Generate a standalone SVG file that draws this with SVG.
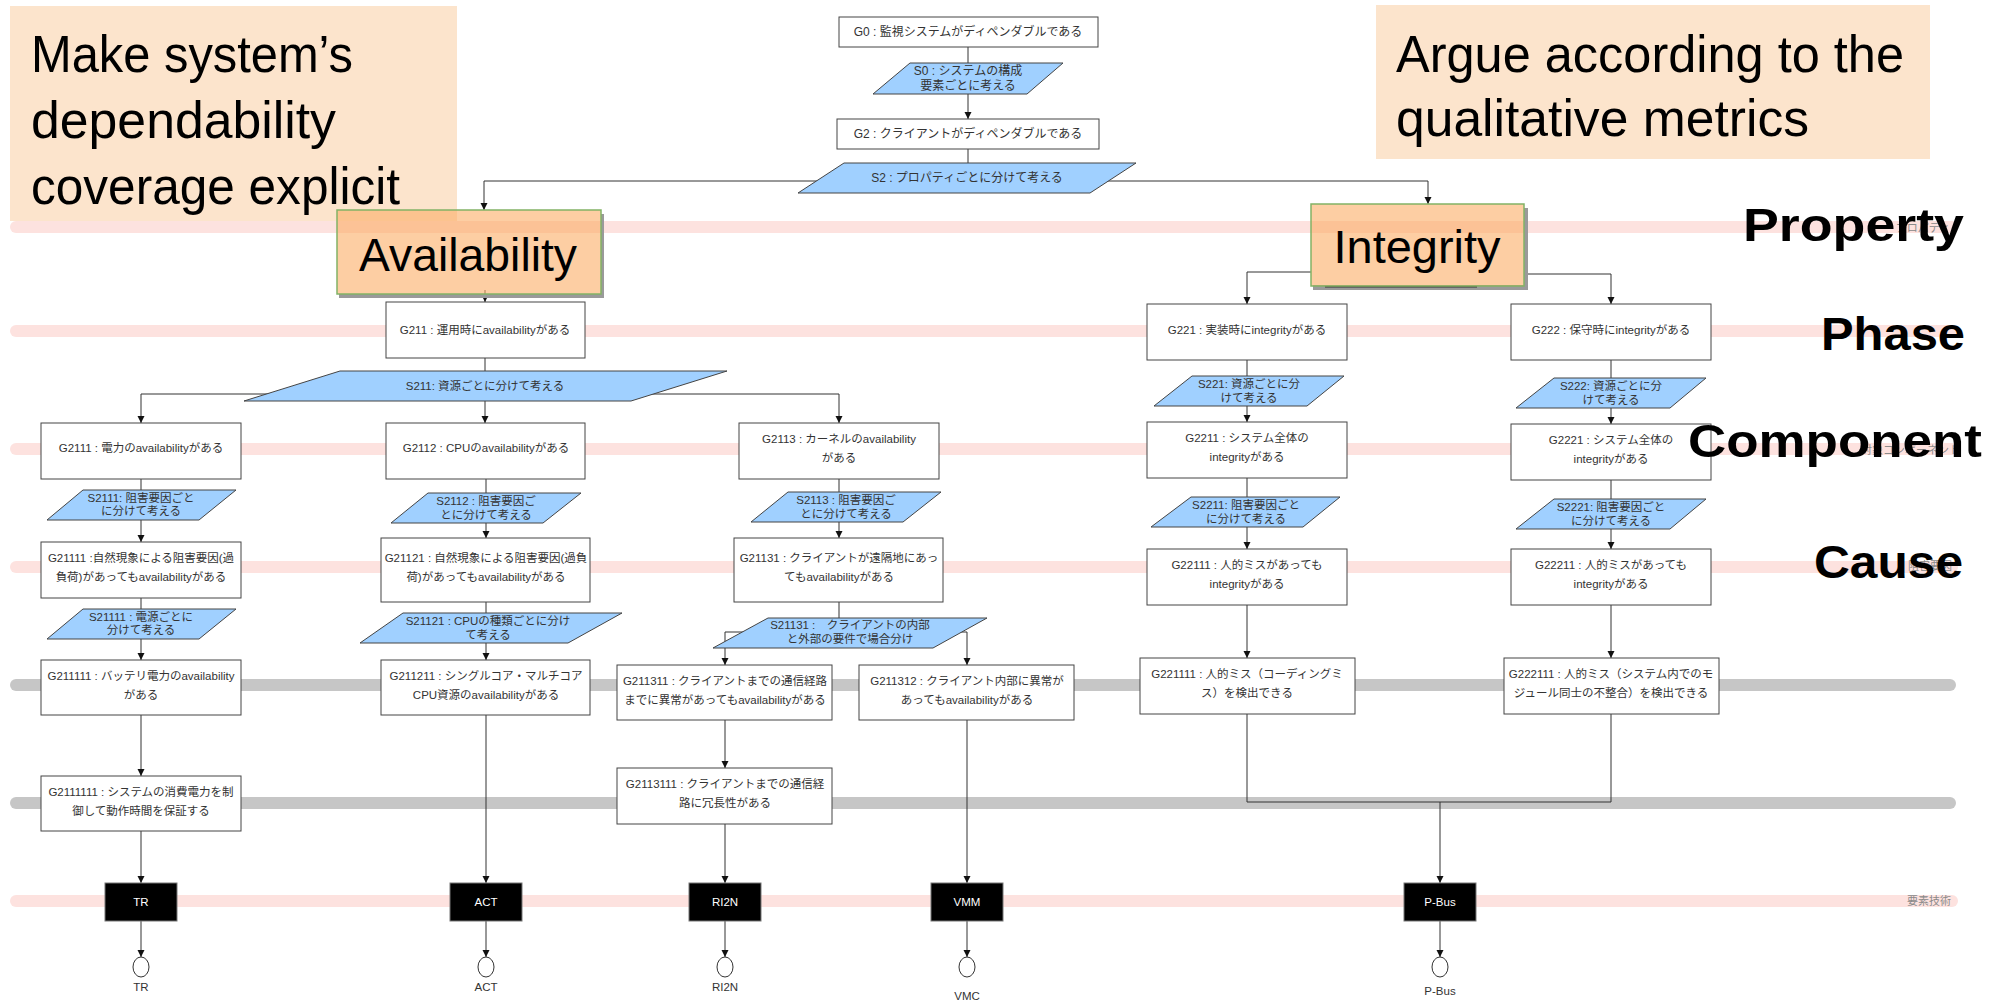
<svg xmlns="http://www.w3.org/2000/svg" width="2006" height="1001" viewBox="0 0 2006 1001">
<style>
.band{fill:none;stroke-width:12;stroke-linecap:round}
.pink{stroke:#fde2df}
.gray{stroke:#c6c6c6}
.note{fill:#fce4cc}
.note text{font-family:"Liberation Sans","Noto Sans",sans-serif;font-size:52px;fill:#000}
.g rect{fill:#fff;stroke:#444;stroke-width:1}
.s polygon{fill:#a0d0ff;stroke:#444;stroke-width:1}
.t{font-family:"Liberation Sans","Noto Sans CJK JP",sans-serif;font-size:11.5px;fill:#333;text-anchor:middle}
.big{font-family:"Liberation Sans","Noto Sans CJK JP",sans-serif;font-size:12px;fill:#333;text-anchor:middle}
.tech rect{fill:#000;stroke:#777;stroke-width:1}
.tech text{font-family:"Liberation Sans",sans-serif;font-size:11.5px;fill:#fff;text-anchor:middle}
.end ellipse{fill:#fff;stroke:#333;stroke-width:1}
.end text{font-family:"Liberation Sans",sans-serif;font-size:11.5px;fill:#333;text-anchor:middle}
.conn path{fill:none;stroke:#333;stroke-width:1}
.prop rect.box{fill:#fcae66;fill-opacity:0.6;stroke:#82b366;stroke-width:1.5}
.prop rect.sh{fill:#9a9a9a}
.prop text{font-family:"Liberation Sans",sans-serif;font-size:47px;fill:#000;text-anchor:middle}
.lvl{font-family:"Liberation Sans",sans-serif;font-weight:bold;font-size:46px;fill:#000;text-anchor:end}
.faint{font-family:"Liberation Sans","Noto Sans CJK JP",sans-serif;font-size:11px;fill:#8a8a8a;text-anchor:end}
</style>
<defs>
<marker id="arr" viewBox="0 0 10 10" refX="10" refY="5" markerWidth="7" markerHeight="9" markerUnits="userSpaceOnUse" orient="auto">
<path d="M0,0 L10,5 L0,10 z" fill="#111"/>
</marker>
</defs>
<rect width="2006" height="1001" fill="#fff"/>

<g id="bands">
<path class="band pink" d="M16,227 H1952"/>
<path class="band pink" d="M16,331 H1952"/>
<path class="band pink" d="M16,449 H1952"/>
<path class="band pink" d="M16,567 H1952"/>
<path class="band gray" d="M16,685 H1950"/>
<path class="band gray" d="M16,803 H1950"/>
<path class="band pink" d="M16,901 H1952"/>
</g>

<g id="faint-labels">
<text class="faint" x="1950" y="232">プロパティ</text>
<text class="faint" x="1960" y="454">対象コンポーネント</text>
<text class="faint" x="1952" y="570">阻害要因</text>
<text class="faint" x="1951" y="905">要素技術</text>
</g>

<g id="note-left" class="note">
<rect x="10" y="6" width="447" height="215"/>
<text x="31" y="72" textLength="322" lengthAdjust="spacingAndGlyphs">Make system’s</text>
<text x="31" y="138" textLength="305" lengthAdjust="spacingAndGlyphs">dependability</text>
<text x="31" y="204" textLength="369" lengthAdjust="spacingAndGlyphs">coverage explicit</text>
</g>
<g id="note-right" class="note">
<rect x="1376" y="5" width="554" height="154"/>
<text x="1396" y="72" textLength="508" lengthAdjust="spacingAndGlyphs">Argue according to the</text>
<text x="1396" y="136" textLength="413" lengthAdjust="spacingAndGlyphs">qualitative metrics</text>
</g>

<g id="connectors" class="conn">
<path d="M968,47 V119" marker-end="url(#arr)"/>
<path d="M968,149 V181"/>
<path d="M968,181 H484 V210" marker-end="url(#arr)"/>
<path d="M968,181 H1428 V204" marker-end="url(#arr)"/>
<path d="M485,290 V302" marker-end="url(#arr)"/>
<path d="M485,358 V394"/>
<path d="M485,394 H141 V423" marker-end="url(#arr)"/>
<path d="M485,394 V423" marker-end="url(#arr)"/>
<path d="M485,394 H839 V423" marker-end="url(#arr)"/>
<path d="M141,479 V542" marker-end="url(#arr)"/>
<path d="M141,598 V660" marker-end="url(#arr)"/>
<path d="M141,715 V776" marker-end="url(#arr)"/>
<path d="M141,831 V883" marker-end="url(#arr)"/>
<path d="M141,921 V957" marker-end="url(#arr)"/>
<path d="M486,479 V538" marker-end="url(#arr)"/>
<path d="M486,602 V660" marker-end="url(#arr)"/>
<path d="M486,715 V883" marker-end="url(#arr)"/>
<path d="M486,921 V957" marker-end="url(#arr)"/>
<path d="M839,479 V538" marker-end="url(#arr)"/>
<path d="M839,602 V632"/>
<path d="M839,632 H725 V665" marker-end="url(#arr)"/>
<path d="M839,632 H967 V665" marker-end="url(#arr)"/>
<path d="M725,720 V768" marker-end="url(#arr)"/>
<path d="M725,824 V883" marker-end="url(#arr)"/>
<path d="M725,921 V957" marker-end="url(#arr)"/>
<path d="M967,720 V883" marker-end="url(#arr)"/>
<path d="M967,921 V957" marker-end="url(#arr)"/>
<path d="M1311,272 H1247 V304" marker-end="url(#arr)"/>
<path d="M1524,274 H1611 V304" marker-end="url(#arr)"/>
<path d="M1247,360 V422" marker-end="url(#arr)"/>
<path d="M1247,478 V549" marker-end="url(#arr)"/>
<path d="M1247,605 V658" marker-end="url(#arr)"/>
<path d="M1247,714 V802 H1611 V714"/>
<path d="M1440,802 V883" marker-end="url(#arr)"/>
<path d="M1440,921 V957" marker-end="url(#arr)"/>
<path d="M1611,360 V424" marker-end="url(#arr)"/>
<path d="M1611,480 V549" marker-end="url(#arr)"/>
<path d="M1611,605 V658" marker-end="url(#arr)"/>
</g>

<g id="G0" class="g"><rect x="839" y="17" width="259" height="30"/><text class="big" x="968" y="36">G0 : 監視システムがディペンダブルである</text></g>
<g id="S0" class="s"><polygon points="910,63 1063,63 1027,94 873,94"/><text class="big" x="968" y="75">S0 : システムの構成</text><text class="big" x="968" y="90">要素ごとに考える</text></g>
<g id="G2" class="g"><rect x="837" y="119" width="262" height="30"/><text class="big" x="968" y="138">G2 : クライアントがディペンダブルである</text></g>
<g id="S2" class="s"><polygon points="844,163 1136,163 1090,193 798,193"/><text class="big" x="967" y="182">S2 : プロパティごとに分けて考える</text></g>

<g id="Availability" class="prop">
<rect class="sh" x="339" y="294" width="265" height="4"/>
<rect class="sh" x="601" y="214" width="3" height="80"/>
<rect class="box" x="337" y="210" width="264" height="84"/>
<text x="468" y="271" textLength="218" lengthAdjust="spacingAndGlyphs">Availability</text>
</g>
<g id="Integrity" class="prop">
<rect class="sh" x="1313" y="285" width="215" height="5"/>
<rect class="sh" x="1524" y="208" width="4" height="78"/>
<rect x="1325" y="286" width="152" height="1.5" fill="#333"/>
<rect class="box" x="1311" y="204" width="213" height="82"/>
<text x="1417" y="263" textLength="167" lengthAdjust="spacingAndGlyphs">Integrity</text>
</g>

<g id="G211" class="g"><rect x="386" y="302" width="199" height="56"/><text class="t" x="485" y="334">G211 : 運用時にavailabilityがある</text></g>
<g id="S211" class="s"><polygon points="340,371 727,371 631,401 244,401"/><text class="t" x="485" y="390">S211: 資源ごとに分けて考える</text></g>

<g id="G2111" class="g"><rect x="41" y="423" width="200" height="56"/><text class="t" x="141" y="452">G2111 : 電力のavailabilityがある</text></g>
<g id="S2111" class="s"><polygon points="83,490 236,490 199,520 47,520"/><text class="t" x="141" y="502">S2111: 阻害要因ごと</text><text class="t" x="141" y="515">に分けて考える</text></g>
<g id="G21111" class="g"><rect x="41" y="542" width="200" height="56"/><text class="t" x="141" y="562">G21111 :自然現象による阻害要因(過</text><text class="t" x="141" y="581">負荷)があってもavailabilityがある</text></g>
<g id="S21111" class="s"><polygon points="83,609 236,609 199,639 47,639"/><text class="t" x="141" y="621">S21111 : 電源ごとに</text><text class="t" x="141" y="634">分けて考える</text></g>
<g id="G211111" class="g"><rect x="41" y="660" width="200" height="55"/><text class="t" x="141" y="680">G211111 : バッテリ電力のavailability</text><text class="t" x="141" y="699">がある</text></g>
<g id="G2111111" class="g"><rect x="41" y="776" width="200" height="55"/><text class="t" x="141" y="796">G2111111 : システムの消費電力を制</text><text class="t" x="141" y="815">御して動作時間を保証する</text></g>

<g id="G2112" class="g"><rect x="386" y="423" width="199" height="56"/><text class="t" x="486" y="452">G2112 : CPUのavailabilityがある</text></g>
<g id="S2112" class="s"><polygon points="428,493 581,493 543,523 391,523"/><text class="t" x="486" y="505">S2112 : 阻害要因ご</text><text class="t" x="486" y="519">とに分けて考える</text></g>
<g id="G21121" class="g"><rect x="381" y="538" width="209" height="64"/><text class="t" x="486" y="562">G21121 : 自然現象による阻害要因(過負</text><text class="t" x="486" y="581">荷)があってもavailabilityがある</text></g>
<g id="S21121" class="s"><polygon points="403,613 622,613 568,643 360,643"/><text class="t" x="488" y="625">S21121 : CPUの種類ごとに分け</text><text class="t" x="488" y="639">て考える</text></g>
<g id="G211211" class="g"><rect x="381" y="660" width="209" height="55"/><text class="t" x="486" y="680">G211211 : シングルコア・マルチコア</text><text class="t" x="486" y="699">CPU資源のavailabilityがある</text></g>

<g id="G2113" class="g"><rect x="739" y="423" width="200" height="56"/><text class="t" x="839" y="443">G2113 : カーネルのavailability</text><text class="t" x="839" y="462">がある</text></g>
<g id="S2113" class="s"><polygon points="788,492 941,492 903,522 751,522"/><text class="t" x="846" y="504">S2113 : 阻害要因ご</text><text class="t" x="846" y="518">とに分けて考える</text></g>
<g id="G21131" class="g"><rect x="734" y="538" width="209" height="64"/><text class="t" x="839" y="562">G21131 : クライアントが遠隔地にあっ</text><text class="t" x="839" y="581">てもavailabilityがある</text></g>
<g id="S21131" class="s"><polygon points="768,618 987,618 933,648 713,648"/><text class="t" x="850" y="629">S21131 :　クライアントの内部</text><text class="t" x="850" y="643">と外部の要件で場合分け</text></g>
<g id="G211311" class="g"><rect x="617" y="665" width="215" height="55"/><text class="t" x="725" y="685">G211311 : クライアントまでの通信経路</text><text class="t" x="725" y="704">までに異常があってもavailabilityがある</text></g>
<g id="G211312" class="g"><rect x="859" y="665" width="215" height="55"/><text class="t" x="967" y="685">G211312 : クライアント内部に異常が</text><text class="t" x="967" y="704">あってもavailabilityがある</text></g>
<g id="G2113111" class="g"><rect x="617" y="768" width="215" height="56"/><text class="t" x="725" y="788">G2113111 : クライアントまでの通信経</text><text class="t" x="725" y="807">路に冗長性がある</text></g>

<g id="G221" class="g"><rect x="1147" y="304" width="200" height="56"/><text class="t" x="1247" y="334">G221 : 実装時にintegrityがある</text></g>
<g id="S221" class="s"><polygon points="1192,376 1344,376 1307,406 1154,406"/><text class="t" x="1249" y="388">S221: 資源ごとに分</text><text class="t" x="1249" y="402">けて考える</text></g>
<g id="G2211" class="g"><rect x="1147" y="422" width="200" height="56"/><text class="t" x="1247" y="442">G2211 : システム全体の</text><text class="t" x="1247" y="461">integrityがある</text></g>
<g id="S2211" class="s"><polygon points="1191,497 1340,497 1303,527 1151,527"/><text class="t" x="1246" y="509">S2211: 阻害要因ごと</text><text class="t" x="1246" y="523">に分けて考える</text></g>
<g id="G22111" class="g"><rect x="1147" y="549" width="200" height="56"/><text class="t" x="1247" y="569">G22111 : 人的ミスがあっても</text><text class="t" x="1247" y="588">integrityがある</text></g>
<g id="G221111" class="g"><rect x="1140" y="658" width="215" height="56"/><text class="t" x="1247" y="678">G221111 : 人的ミス（コーディングミ</text><text class="t" x="1247" y="697">ス）を検出できる</text></g>

<g id="G222" class="g"><rect x="1511" y="304" width="200" height="56"/><text class="t" x="1611" y="334">G222 : 保守時にintegrityがある</text></g>
<g id="S222" class="s"><polygon points="1554,378 1706,378 1670,408 1516,408"/><text class="t" x="1611" y="390">S222: 資源ごとに分</text><text class="t" x="1611" y="404">けて考える</text></g>
<g id="G2221" class="g"><rect x="1511" y="424" width="200" height="56"/><text class="t" x="1611" y="444">G2221 : システム全体の</text><text class="t" x="1611" y="463">integrityがある</text></g>
<g id="S2221" class="s"><polygon points="1554,499 1706,499 1670,529 1516,529"/><text class="t" x="1611" y="511">S2221: 阻害要因ごと</text><text class="t" x="1611" y="525">に分けて考える</text></g>
<g id="G22211" class="g"><rect x="1511" y="549" width="200" height="56"/><text class="t" x="1611" y="569">G22211 : 人的ミスがあっても</text><text class="t" x="1611" y="588">integrityがある</text></g>
<g id="G222111" class="g"><rect x="1504" y="658" width="215" height="56"/><text class="t" x="1611" y="678">G222111 : 人的ミス（システム内でのモ</text><text class="t" x="1611" y="697">ジュール同士の不整合）を検出できる</text></g>

<g id="TR" class="tech"><rect x="105" y="883" width="72" height="38"/><text x="141" y="906">TR</text></g>
<g id="ACT" class="tech"><rect x="450" y="883" width="72" height="38"/><text x="486" y="906">ACT</text></g>
<g id="RI2N" class="tech"><rect x="689" y="883" width="72" height="38"/><text x="725" y="906">RI2N</text></g>
<g id="VMM" class="tech"><rect x="931" y="883" width="72" height="38"/><text x="967" y="906">VMM</text></g>
<g id="P-Bus" class="tech"><rect x="1404" y="883" width="72" height="38"/><text x="1440" y="906">P-Bus</text></g>

<g id="end-TR" class="end"><ellipse cx="141" cy="967" rx="8" ry="10"/><text x="141" y="991">TR</text></g>
<g id="end-ACT" class="end"><ellipse cx="486" cy="967" rx="8" ry="10"/><text x="486" y="991">ACT</text></g>
<g id="end-RI2N" class="end"><ellipse cx="725" cy="967" rx="8" ry="10"/><text x="725" y="991">RI2N</text></g>
<g id="end-VMC" class="end"><ellipse cx="967" cy="967" rx="8" ry="10"/><text x="967" y="1000">VMC</text></g>
<g id="end-PBus" class="end"><ellipse cx="1440" cy="967" rx="8" ry="10"/><text x="1440" y="995">P-Bus</text></g>

<g id="levels">
<text class="lvl" x="1964" y="241" textLength="221" lengthAdjust="spacingAndGlyphs">Property</text>
<text class="lvl" x="1965" y="350" textLength="144" lengthAdjust="spacingAndGlyphs">Phase</text>
<text class="lvl" x="1982" y="457" textLength="294" lengthAdjust="spacingAndGlyphs">Component</text>
<text class="lvl" x="1963" y="578" textLength="149" lengthAdjust="spacingAndGlyphs">Cause</text>
</g>
</svg>
